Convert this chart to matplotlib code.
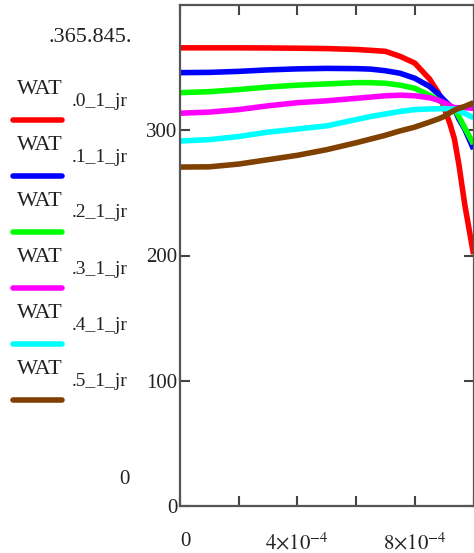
import numpy as np
import matplotlib
matplotlib.use('Agg')
import matplotlib.pyplot as plt
from matplotlib.lines import Line2D

# x positions (same for all curves)
x = [0, 1e-4, 2e-4, 3e-4, 4e-4, 5e-4, 6e-4, 6.5e-4, 7e-4, 7.5e-4, 8e-4, 8.5e-4,
     8.8e-4, 9e-4, 9.2e-4, 9.35e-4, 9.5e-4, 9.7e-4, 1e-3]

wat0 = [365.8, 365.8, 365.8, 365.7, 365.5, 365.2, 364.5, 363.8, 363, 359, 353.6, 341,
        330, 318, 305, 293, 273, 241, 201]
wat1 = [346, 346.2, 347, 348.2, 349, 349.4, 349.2, 348.8, 347.5, 345.5, 341.5, 335,
        329, 324, 319.5, 317, 309, 301, 285]
wat2 = [330, 330.8, 332.5, 334.5, 336, 337, 338, 338, 337.5, 336, 333.5, 328,
        324, 321.5, 318.5, 317, 311, 302, 289]
wat3 = [313.6, 314.5, 316.5, 319.5, 322, 323.5, 325.5, 326.5, 327.5, 328, 327.5, 326,
        324, 322, 319.5, 318, 318, 318, 317.5]
wat4 = [291.4, 292.5, 295, 298.5, 301, 303.5, 308.5, 311, 313, 315, 316.5, 317,
        317.2, 317.2, 317, 317, 315.5, 313.5, 310]
wat5 = [270.6, 270.8, 273, 276.5, 280, 284.5, 290, 293, 296, 299.5, 302.5, 306.5,
        309, 311, 314, 316, 317.5, 319, 322]

series = [wat0, wat1, wat2, wat3, wat4, wat5]
names = ['.0_1_jr', '.1_1_jr', '.2_1_jr', '.3_1_jr', '.4_1_jr', '.5_1_jr']
colors = ['#ff0000', '#0000ff', '#00ff00', '#ff00ff', '#00ffff', '#804000']

yticks = [0, 100, 200, 300]
xticks = [0, 2e-4, 4e-4, 6e-4, 8e-4, 1e-3]
xlabels = ['0', '', r'$4{\times}10^{-4}$', '', r'$8{\times}10^{-4}$', '']

plt.rcParams['font.family'] = ['Liberation Serif', 'DejaVu Serif']
plt.rcParams['mathtext.fontset'] = 'stix'

W, H = 474, 553
fig = plt.figure(figsize=(W / 100, H / 100), dpi=100)

def fy(py):
    return 1 - py / H

ax = fig.add_axes([180 / W, fy(506), 293.5 / W, (506 - 5) / H])
for s, c in zip(series, colors):
    ax.plot(x, s, color=c, lw=4, solid_capstyle='butt')

ax.set_xlim(0, 1e-3)
ax.set_ylim(0, 400)
ax.set_yticks(yticks)
ax.set_yticklabels([str(v) for v in yticks])
ax.set_xticks(xticks)
ax.set_xticklabels(xlabels)
ax.get_xticklabels()[0].set_ha('left')
ax.tick_params(direction='in', length=7, width=1.5, color='#444444',
               top=True, right=True, labelsize=15, labelcolor='#222222')
ax.tick_params(axis='x', pad=19)
ax.tick_params(axis='y', pad=2)
for sp in ax.spines.values():
    sp.set_color('#555555')
    sp.set_linewidth(1.6)

# legend-like labels on the left
tc = '#222222'
fig.text(48 / W, fy(37), '.365.845.', fontsize=16, color=tc, va='center', ha='left')
fig.text(124 / W, fy(480), '0', fontsize=15, color=tc, va='center', ha='center')
for i, (n, c) in enumerate(zip(names, colors)):
    off = 56 * i
    fig.text(17 / W, fy(89 + off), 'WAT', fontsize=16, color=tc, va='center', ha='left')
    fig.text(72 / W, fy(101 + off), n, fontsize=14, color=tc, va='center', ha='left')
    fig.add_artist(Line2D([13 / W, 62 / W], [fy(120 + off), fy(120 + off)],
                          color=c, lw=4, solid_capstyle='round'))

fig.savefig('out.png', dpi=100)
